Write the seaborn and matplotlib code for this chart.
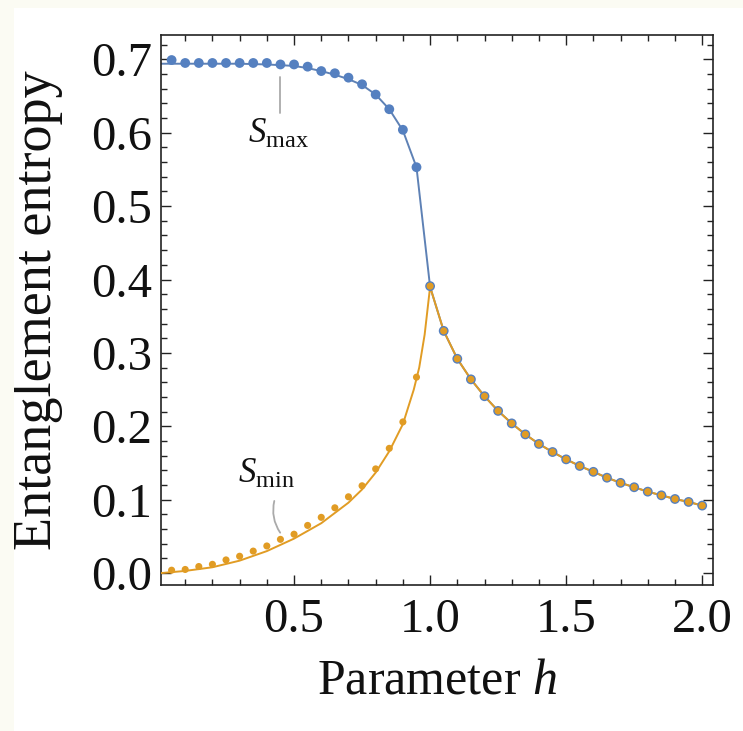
import numpy as np
import pandas as pd
import matplotlib
matplotlib.use("Agg")
import matplotlib.pyplot as plt
from matplotlib.patches import Rectangle
from matplotlib.ticker import MultipleLocator, FixedLocator, FormatStrFormatter
import seaborn as sns

# ---------------- data ----------------
h_low = [0.05, 0.10, 0.15, 0.20, 0.25, 0.30, 0.35, 0.40, 0.45, 0.50,
         0.55, 0.60, 0.65, 0.70, 0.75, 0.80, 0.85, 0.90, 0.95, 1.00]
smax_pts_low = [0.699, 0.695, 0.695, 0.695, 0.695, 0.695, 0.695, 0.695, 0.693, 0.693,
                0.690, 0.684, 0.681, 0.675, 0.666, 0.652, 0.632, 0.604, 0.553, 0.391]
smin_pts_low = [0.004, 0.005, 0.009, 0.012, 0.018, 0.023, 0.030, 0.037, 0.046, 0.053,
                0.065, 0.076, 0.089, 0.104, 0.119, 0.142, 0.170, 0.206, 0.267, 0.391]

h_high = [1.05, 1.10, 1.15, 1.20, 1.25, 1.30, 1.35, 1.40, 1.45, 1.50,
          1.55, 1.60, 1.65, 1.70, 1.75, 1.80, 1.85, 1.90, 1.95, 2.00]
s_pts_high = [0.330, 0.292, 0.264, 0.241, 0.221, 0.204, 0.189, 0.176, 0.165, 0.155,
              0.146, 0.138, 0.130, 0.123, 0.117, 0.111, 0.106, 0.101, 0.097, 0.092]

# analytic curves (lines)
h_line_max = [0.01, 0.10, 0.20, 0.30, 0.40, 0.50, 0.55, 0.60, 0.65, 0.70,
              0.75, 0.80, 0.85, 0.90, 0.95, 1.00]
smax_line = [0.694, 0.694, 0.694, 0.694, 0.693, 0.691, 0.688, 0.684, 0.679, 0.673,
             0.665, 0.652, 0.632, 0.603, 0.553, 0.390]
h_line_min = [0.01, 0.10, 0.20, 0.30, 0.40, 0.50, 0.60, 0.70, 0.75, 0.80,
              0.85, 0.90, 0.94, 0.96, 0.98, 1.00]
smin_line = [0.000, 0.003, 0.008, 0.017, 0.030, 0.047, 0.068, 0.096, 0.114, 0.137,
             0.166, 0.203, 0.250, 0.280, 0.325, 0.390]
h_line_high = [1.00] + h_high
s_line_high = [0.390] + s_pts_high

x_ticks = [0.5, 1.0, 1.5, 2.0]
y_ticks = [0.0, 0.1, 0.2, 0.3, 0.4, 0.5, 0.6, 0.7]

BLUE_LINE = "#5E81B5"
BLUE_PT = "#5580C0"
ORANGE = "#E19C24"

# ---------------- style ----------------
sns.set_style("ticks")
plt.rcParams["font.family"] = ["Liberation Serif", "DejaVu Serif"]
plt.rcParams["mathtext.fontset"] = "custom"
plt.rcParams["mathtext.rm"] = "Liberation Serif"
plt.rcParams["mathtext.it"] = "Liberation Serif:italic"

fig = plt.figure(figsize=(7.43, 7.31), dpi=100)
fig.patch.set_facecolor("white")
# off-white L strip of the screenshot
fig.patches.append(Rectangle((0, 1 - 8 / 731), 1, 8 / 731, transform=fig.transFigure,
                             facecolor="#FBFBF3", edgecolor="none", zorder=0))
fig.patches.append(Rectangle((0, 0), 14 / 743, 1, transform=fig.transFigure,
                             facecolor="#FBFBF3", edgecolor="none", zorder=0))

ax = fig.add_axes([0.2163, 0.1997, 0.7427, 0.7531])

df_max_line = pd.DataFrame({"h": h_line_max + h_line_high, "S": smax_line + s_line_high})
df_min_line = pd.DataFrame({"h": h_line_min + h_line_high, "S": smin_line + s_line_high})
df_max_pts = pd.DataFrame({"h": h_low + h_high, "S": smax_pts_low + s_pts_high})
df_min_pts = pd.DataFrame({"h": h_low + h_high, "S": smin_pts_low + s_pts_high})

sns.lineplot(data=df_max_line, x="h", y="S", color=BLUE_LINE, lw=1.4, ax=ax,
             estimator=None, sort=True, zorder=2)
sns.lineplot(data=df_min_line, x="h", y="S", color=ORANGE, lw=1.4, ax=ax,
             estimator=None, sort=True, zorder=3)
sns.scatterplot(data=df_max_pts, x="h", y="S", color=BLUE_PT, s=50, marker="o",
                edgecolor="none", ax=ax, zorder=4)
sns.scatterplot(data=df_min_pts, x="h", y="S", color=ORANGE, s=26, marker="o",
                edgecolor="none", ax=ax, zorder=5)

ax.set_xlim(0.010, 2.038)
ax.set_ylim(-0.0162, 0.7338)

ax.xaxis.set_major_locator(FixedLocator(x_ticks))
ax.yaxis.set_major_locator(FixedLocator(y_ticks))
ax.xaxis.set_major_formatter(FormatStrFormatter("%.1f"))
ax.yaxis.set_major_formatter(FormatStrFormatter("%.1f"))
ax.xaxis.set_minor_locator(MultipleLocator(0.1))
ax.yaxis.set_minor_locator(MultipleLocator(0.02))

ax.tick_params(which="both", direction="in", top=True, right=True,
               color="#222222", width=1.0)
ax.tick_params(which="major", length=7, labelsize=35, labelcolor="#111111")
ax.tick_params(which="minor", length=4)
ax.tick_params(axis="x", which="major", pad=9)
ax.tick_params(axis="y", which="major", pad=6)

for sp in ax.spines.values():
    sp.set_color("#222222")
    sp.set_linewidth(1.2)

ax.set_xlabel(r"Parameter $h$", fontsize=36, color="#111111")
ax.set_ylabel("Entanglement entropy", fontsize=39, color="#111111")
ax.xaxis.set_label_coords(0.5007, -0.132)
ax.yaxis.set_label_coords(-0.177, 0.5)

# curve labels with leader lines
ax.text(0.33, 0.586, r"$S_{\mathrm{max}}$", fontsize=25, ha="left", va="baseline",
        color="#111111")
ax.plot([0.4485, 0.4485], [0.676, 0.627], color="#AAAAAA", lw=1.3, zorder=1)
ax.text(0.294, 0.123, r"$S_{\mathrm{min}}$", fontsize=25, ha="left", va="baseline",
        color="#111111")
ax.annotate("", xy=(0.455, 0.052), xytext=(0.430, 0.102),
            arrowprops=dict(arrowstyle="-", color="#AAAAAA", lw=1.3,
                            connectionstyle="arc3,rad=0.25"))

fig.savefig("out.png", dpi=100)
